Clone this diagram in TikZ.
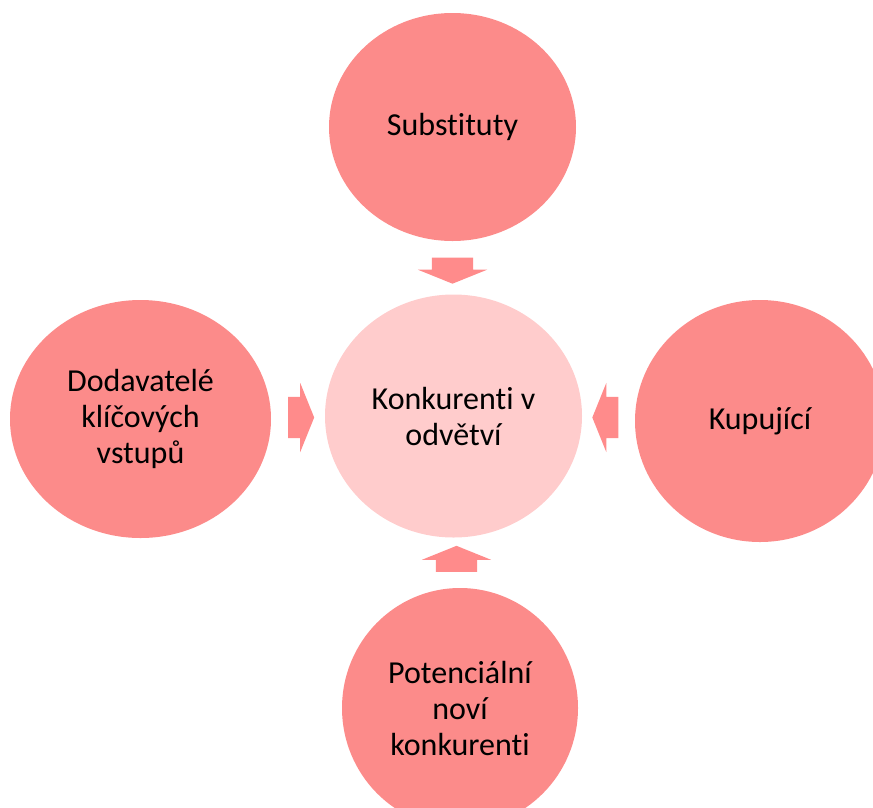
\documentclass[tikz,border=0pt]{standalone}
\usepackage{fontspec}
\setmainfont{Carlito}[Ligatures=NoCommon]
\usetikzlibrary{shapes.geometric,shapes.arrows}

\definecolor{outerfill}{RGB}{252,139,138}
\definecolor{innerfill}{RGB}{255,204,204}
\definecolor{arrowfill}{RGB}{255,139,139}

\tikzset{
  force/.style={ellipse,fill=outerfill,inner sep=0pt,align=center,
    font=\fontsize{32pt}{36pt}\selectfont},
  rival/.style={force,fill=innerfill},
  push/.style={single arrow,fill=arrowfill,inner xsep=0pt,inner ysep=20.5pt,
    single arrow head extend=14pt,single arrow tip angle=136,
    minimum height=26pt,outer sep=0pt}
}

\begin{document}
\begin{tikzpicture}[x=1pt,y=1pt]
\useasboundingbox (0, 0) rectangle (873, -807);
\clip (0, 0) rectangle (873, -807);

\node [force,minimum width=247pt,minimum height=228pt] (subst) at (452.5, -127) {Substituty};
\node [rival,minimum width=257pt,minimum height=243pt] (rivals) at (453.5, -416) {Konkurenti v\\odvětví};
\node [force,minimum width=261pt,minimum height=238pt] (supp) at (140.5, -419) {Dodavatelé\\klíčových\\vstupů};
\node [force,minimum width=250pt,minimum height=242pt] (buyers) at (760, -421) {Kupující};
\node [force,minimum width=236pt,minimum height=240pt] (entrants) at (460, -708) {Potenciální\\noví\\konkurenti};

\node [push,rotate=-90] (a1) at (452.5, -266.5) {};
\node [push] (a2) at (297, -417.5) {};
\node [push,rotate=180] (a3) at (609.5, -417.5) {};
\node [push,rotate=90] (a4) at (456.5, -563) {};
\end{tikzpicture}
\end{document}
